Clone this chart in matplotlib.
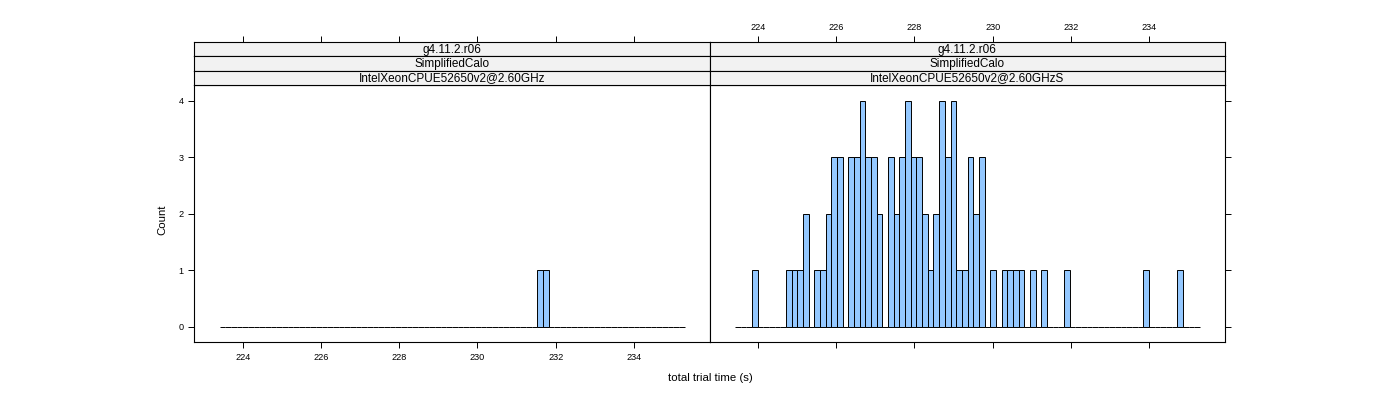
import matplotlib
matplotlib.use("Agg")
import matplotlib.pyplot as plt
import numpy as np

# histogram bins (82 equal bins) and counts
BREAK_LO = 223.415
BREAK_HI = 235.295
N_BINS = 82

counts_right = [
    0, 0, 0, 1, 0, 0, 0, 0, 0, 1,
    1, 1, 2, 0, 1, 1, 2, 3, 3, 0,
    3, 3, 4, 3, 3, 2, 0, 3, 2, 3,
    4, 3, 3, 2, 1, 2, 4, 3, 4, 1,
    1, 3, 2, 3, 0, 1, 0, 1, 1, 1,
    1, 0, 1, 0, 1, 0, 0, 0, 1, 0,
    0, 0, 0, 0, 0, 0, 0, 0, 0, 0,
    0, 0, 1, 0, 0, 0, 0, 0, 1, 0,
    0, 0,
]
counts_left = [0] * N_BINS
counts_left[56] = 1
counts_left[57] = 1

strip_left = ["g4.11.2.r06", "SimplifiedCalo", "IntelXeonCPUE52650v2@2.60GHz"]
strip_right = ["g4.11.2.r06", "SimplifiedCalo", "IntelXeonCPUE52650v2@2.60GHzS"]
x_ticks = [224, 226, 228, 230, 232, 234]
y_ticks = [0, 1, 2, 3, 4]

edges = np.linspace(BREAK_LO, BREAK_HI, N_BINS + 1)
width = edges[1] - edges[0]

plt.rcParams["font.family"] = ["Liberation Sans", "DejaVu Sans"]

W, H = 1400, 400
fig = plt.figure(figsize=(W / 100, H / 100), dpi=100)
fig.set_facecolor("white")


def fx(px):
    return px / W


def fy(py):
    return 1 - py / H


XLIM = (222.765, 235.937)
YLIM = (-0.271, 4.283)
panel_top, panel_bot = 85.0, 342.3
strip_top = 42.0
strip_h = (panel_top - strip_top) / 3
panels = [(194.3, 709.7), (709.7, 1225.0)]
bar_col = "#94c8ff"
tick_kw = dict(direction="out", length=4.3, width=0.7, labelsize=6.6, colors="black")

for i, ((x0, x1), counts, strips) in enumerate(
    zip(panels, [counts_left, counts_right], [strip_left, strip_right])
):
    ax = fig.add_axes([fx(x0), fy(panel_bot), fx(x1 - x0), (panel_bot - panel_top) / H])
    ax.bar(edges[:-1], counts, width=width, align="edge", color=bar_col,
           edgecolor="black", linewidth=0.7)
    ax.set_xlim(*XLIM)
    ax.set_ylim(*YLIM)
    ax.set_xticks(x_ticks)
    ax.set_yticks(y_ticks)
    for s in ax.spines.values():
        s.set_linewidth(0.8)
    ax.tick_params(axis="x", pad=3.5, **tick_kw)
    ax.tick_params(axis="y", pad=3.5, **tick_kw)
    if i == 0:
        ax.tick_params(left=True, labelleft=True, right=False, labelright=False,
                       bottom=True, labelbottom=True)
    else:
        ax.tick_params(left=False, labelleft=False, right=True, labelright=False,
                       bottom=True, labelbottom=False)

    # strips, top one carries the top axis ticks
    for j, label in enumerate(strips):
        top = strip_top + j * strip_h
        sax = fig.add_axes([fx(x0), fy(top + strip_h), fx(x1 - x0), strip_h / H])
        sax.set_facecolor("#f2f2f2")
        sax.set_xlim(*XLIM)
        sax.set_ylim(0, 1)
        sax.set_yticks([])
        for s in sax.spines.values():
            s.set_linewidth(0.8)
        sax.text(0.5, 0.47, label, transform=sax.transAxes, ha="center",
                 va="center", fontsize=8.5)
        if j == 0:
            sax.set_xticks(x_ticks)
            sax.tick_params(axis="x", pad=3.0, top=True, bottom=False,
                            labeltop=(i == 1), labelbottom=False, **tick_kw)
        else:
            sax.set_xticks([])

fig.text(fx(162), fy(220), "Count", rotation=90, ha="center", va="center", fontsize=8.2)
fig.text(fx(710), fy(378), "total trial time (s)", ha="center", va="center", fontsize=8.2)

fig.savefig("out.png", dpi=100)
